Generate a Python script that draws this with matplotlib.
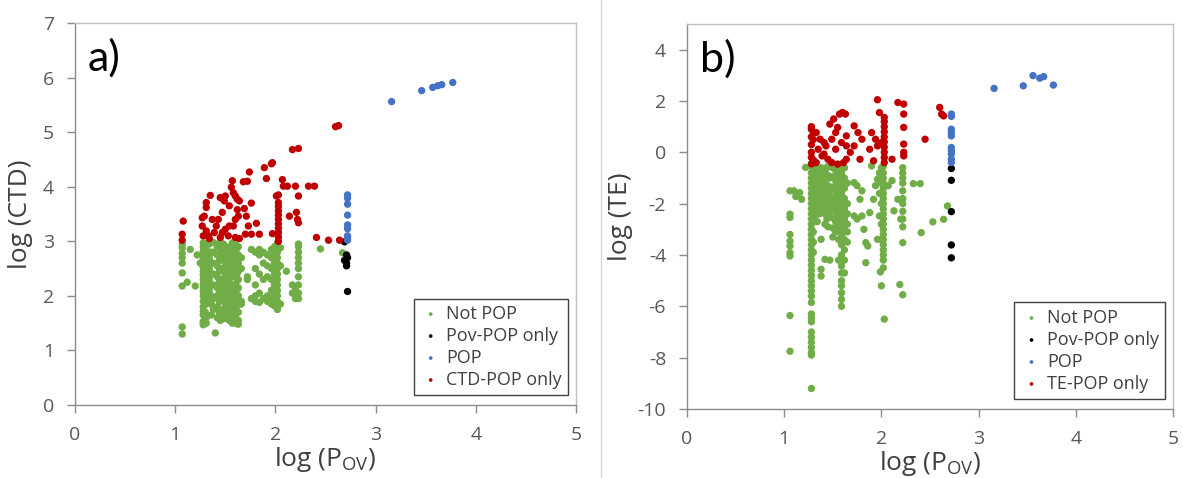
import matplotlib
matplotlib.use('Agg')
import matplotlib.pyplot as plt
from matplotlib.lines import Line2D

plt.rcParams['font.family'] = ['Open Sans', 'DejaVu Sans']
plt.rcParams['mathtext.fontset'] = 'custom'
plt.rcParams['mathtext.rm'] = 'Open Sans'
plt.rcParams['axes.unicode_minus'] = False

# colours of the four classes
GREEN = '#70ad47'
BLACK = '#000000'
BLUE = '#4472c4'
RED = '#c00000'

# ---------------- panel a) log(Pov) vs log(CTD) ----------------
# points are grouped in columns: one x value, several y values
a_green_x = [1.07, 1.12, 1.15, 1.2, 1.22, 1.25, 1.28, 1.3, 1.31, 1.34, 1.36, 1.38, 1.4,
             1.42, 1.44, 1.45, 1.48, 1.5, 1.51, 1.54, 1.56, 1.57, 1.6, 1.62, 1.63, 1.66,
             1.72, 1.76, 1.8, 1.84, 1.88, 1.92, 1.96, 1.99, 2.02, 2.05, 2.11, 2.17, 2.2,
             2.23, 2.45, 2.67]
a_green_y = [
    [1.30, 1.43, 2.18, 2.42, 2.6, 2.7, 2.78, 2.88, 2.95],
    [2.25], [2.85], [2.18], [2.75], [2.6],
    [1.47, 1.5, 1.53, 1.65, 1.72, 1.8, 1.9, 2.0, 2.08, 2.15, 2.22, 2.3, 2.38, 2.45, 2.52,
     2.6, 2.68, 2.75, 2.82, 2.9, 2.97],
    [1.55, 1.7, 1.95, 2.15, 2.35, 2.55, 2.75, 2.95],
    [1.5, 1.6, 1.85, 2.05, 2.25, 2.45, 2.65, 2.85],
    [1.9, 2.1, 2.3, 2.5, 2.7, 2.95],
    [1.65, 1.85, 2.0, 2.2, 2.4, 2.6, 2.8],
    [1.75, 1.95, 2.2, 2.4, 2.6, 2.8, 2.98],
    [1.32],
    [1.6, 1.8, 2.0, 2.15, 2.35, 2.55, 2.75, 2.9],
    [1.7, 1.9, 2.05, 2.25, 2.45, 2.65, 2.95],
    [1.55, 1.7, 1.9, 2.1, 2.3, 2.5, 2.7, 2.85, 3.0],
    [1.58, 1.75, 1.95, 2.2, 2.45, 2.65, 2.8, 2.95],
    [1.65, 1.8, 2.0, 2.15, 2.35, 2.55, 2.75],
    [1.6, 1.85, 2.05, 2.25, 2.4, 2.6, 2.9],
    [1.55, 1.7, 1.9, 2.1, 2.3, 2.5, 2.7, 2.85],
    [1.6, 1.75, 1.95, 2.15, 2.35, 2.55, 2.75, 2.9],
    [1.5, 1.65, 1.8, 2.0, 2.2, 2.4, 2.6, 2.8, 2.97],
    [1.5, 1.62, 1.75, 1.9, 2.05, 2.2, 2.35, 2.5, 2.65, 2.8, 2.95],
    [1.55, 1.7, 1.82, 1.98, 2.12, 2.28, 2.42, 2.58, 2.72, 2.88],
    [1.48, 1.55, 1.7, 1.85, 2.0, 2.15, 2.3, 2.45, 2.6, 2.75, 2.9],
    [1.85, 1.9, 2.5, 2.7],
    [2.3, 2.35], [2.85, 1.95],
    [1.9, 2.0, 2.2, 2.5, 2.8],
    [1.88, 2.05, 2.4, 2.75, 2.85],
    [1.95, 2.3, 2.6, 2.8],
    [1.9, 2.0, 2.35, 2.55, 2.75],
    [1.85, 1.95, 2.1, 2.3, 2.5, 2.7, 2.85],
    [1.82, 2.0, 2.2, 2.4, 2.6, 2.8, 2.9],
    [1.75, 1.8, 1.9, 2.0, 2.1, 2.2, 2.3, 2.4, 2.5, 2.6, 2.7, 2.8, 2.9, 2.97],
    [1.85, 2.55, 2.88],
    [2.45], [2.2, 2.05], [2.1, 2.0, 1.95],
    [1.95, 2.05, 2.2, 2.35, 2.5, 2.6, 2.7, 2.8, 2.9, 2.95],
    [2.86], [2.79],
]
a_black_x = [2.69, 2.71, 2.72]
a_black_y = [[2.99, 2.65], [2.75, 2.6, 2.55], [2.70, 2.08]]
a_blue_x = [2.72, 3.16, 3.46, 3.57, 3.62, 3.66, 3.77]
a_blue_y = [[3.02, 3.05, 3.10, 3.23, 3.30, 3.48, 3.68, 3.79, 3.85],
            [5.56], [5.76], [5.82], [5.85], [5.87], [5.91]]
a_red_x = [1.07, 1.08, 1.27, 1.28, 1.29, 1.31, 1.33, 1.34, 1.35, 1.37, 1.39, 1.41, 1.43,
           1.45, 1.47, 1.49, 1.50, 1.53, 1.54, 1.56, 1.57, 1.58, 1.60, 1.62, 1.63, 1.64,
           1.68, 1.69, 1.70, 1.71, 1.72, 1.73, 1.74, 1.76, 1.81, 1.84, 1.89, 1.91, 1.96,
           1.97, 2.01, 2.03, 2.07, 2.08, 2.12, 2.14, 2.17, 2.20, 2.21, 2.22, 2.23, 2.33,
           2.39, 2.41, 2.53, 2.60, 2.63, 2.64]
a_red_y = [
    [3.02, 3.13], [3.37], [3.28, 3.43], [3.10], [3.46], [3.19, 3.62, 3.71], [3.10],
    [3.05], [3.84], [3.40], [3.16], [3.28], [3.40], [3.07, 3.80], [3.16, 3.53], [3.74],
    [3.22, 3.83], [3.10], [3.28, 3.65], [3.99], [4.11], [3.28, 3.89], [3.07, 3.40, 3.83],
    [3.58, 3.77], [3.46], [3.05, 3.74], [4.09], [3.60], [3.13], [3.46], [4.10], [3.28],
    [4.27], [3.13, 3.70], [3.33], [3.13], [4.35], [4.15], [4.42], [3.14, 4.44], [3.83],
    [3.0, 3.08, 3.16, 3.24, 3.32, 3.4, 3.48, 3.56, 3.64, 3.71, 3.85],
    [4.13], [4.01], [4.01], [3.46], [4.68], [4.01], [3.53], [3.40], [3.34, 3.83, 4.70],
    [4.01], [4.01], [3.07], [3.02], [5.10], [5.12], [3.02],
]

# ---------------- panel b) log(Pov) vs log(TE) ----------------
b_green_x = [1.06, 1.1, 1.12, 1.16, 1.18, 1.22, 1.28, 1.3, 1.31, 1.34, 1.36, 1.38, 1.42,
             1.44, 1.45, 1.47, 1.5, 1.53, 1.55, 1.56, 1.59, 1.62, 1.65, 1.72, 1.75, 1.78,
             1.8, 1.82, 1.84, 1.86, 1.88, 1.9, 1.92, 1.94, 1.96, 1.98, 1.99, 2.0, 2.02,
             2.03, 2.07, 2.11, 2.13, 2.17, 2.19, 2.2, 2.22, 2.33, 2.4, 2.41, 2.53, 2.64,
             2.68]
b_green_y = [
    [-1.5, -2.41, -2.54, -3.2, -3.46, -3.65, -3.91, -4.04, -6.36, -7.75],
    [-1.5], [-1.72], [-1.57], [-1.83], [-0.59],
    [-0.55, -0.8, -1.0, -1.2, -1.4, -1.6, -1.8, -2.0, -2.2, -2.4, -2.6, -2.8, -3.0, -3.2,
     -3.4, -3.6, -3.8, -4.0, -4.2, -4.4, -4.6, -4.8, -5.0, -5.2, -5.4, -5.6, -5.85, -6.3,
     -6.45, -6.6, -7.0, -7.2, -7.4, -7.6, -7.8, -7.9, -9.2],
    [-0.7, -1.1, -1.5, -1.9, -2.3, -2.7, -3.1, -3.5, -3.9],
    [-0.6, -0.9, -1.3, -1.7, -2.1, -2.5],
    [-0.7, -1.1, -1.5, -1.9, -2.3, -2.7],
    [-0.8, -1.2, -1.6, -2.0, -2.4],
    [-0.6, -1.0, -1.4, -1.8, -2.2, -3.39, -4.56, -4.82],
    [-0.8, -1.2, -1.6, -2.0, -2.4, -2.8, -4.17],
    [-0.6, -1.0, -1.4, -1.8, -2.2, -2.6],
    [-0.55, -0.9, -1.3, -1.7, -2.1, -2.5, -2.9],
    [-1.0, -1.5, -2.0, -2.3, -4.2],
    [-0.6, -0.95, -1.35, -1.75, -2.15, -2.55, -2.95, -3.3],
    [-0.7, -1.1, -1.5, -1.9, -2.3, -2.7, -3.1],
    [-0.8, -1.2, -1.6, -2.0, -2.4, -2.8],
    [-0.6, -1.0, -1.4, -1.8, -2.2, -2.6, -3.0, -3.4, -4.2],
    [-0.5, -0.8, -1.2, -1.6, -2.0, -2.4, -2.8, -3.2, -3.6, -4.0, -4.43, -4.7, -5.0, -5.2,
     -5.47, -5.73, -6.0],
    [-0.6, -1.0, -1.4, -1.8, -2.2, -2.6, -3.0, -3.4, -3.8, -4.2, -4.7],
    [-1.2, -2.0, -2.8, -3.5, -3.1, -2.4],
    [-1.18, -2.48], [-1.3, -2.6], [-1.83], [-2.48, -1.5], [-3.0], [-3.52, -4.3], [-3.65],
    [-2.35], [-0.53], [-1.83], [-1.3], [-1.05, -3.39], [-2.48, -0.8, -1.6], [-4.66],
    [-5.2, -0.6, -1.2, -2.0, -2.8, -3.4],
    [-0.55, -0.8, -1.0, -1.2, -1.4, -1.6, -1.8, -2.0, -2.2, -2.4, -2.6, -2.8, -3.0, -3.2,
     -3.4, -3.6, -3.8, -4.0, -4.2, -4.5],
    [-6.5], [-1.3], [-1.1], [-2.28], [-1.83], [-5.15], [-2.6],
    [-0.6, -0.8, -1.0, -1.2, -1.5, -1.8, -2.0, -2.3, -2.6, -2.9, -3.52, -5.55],
    [-1.22], [-1.22], [-3.13], [-2.71], [-2.61], [-2.09],
]
b_black_x = [2.72]
b_black_y = [[-0.63, -1.09, -2.31, -3.61, -4.11]]
b_blue_x = [2.72, 3.16, 3.46, 3.56, 3.63, 3.67, 3.77]
b_blue_y = [[1.49, 1.40, 0.90, 0.77, 0.64, 0.19, 0.06, -0.07, -0.27, -0.40],
            [2.49], [2.59], [2.99], [2.89], [2.95], [2.62]]
b_red_x = [1.28, 1.30, 1.33, 1.35, 1.37, 1.39, 1.41, 1.43, 1.45, 1.47, 1.49, 1.51, 1.53,
           1.55, 1.57, 1.59, 1.60, 1.61, 1.63, 1.64, 1.68, 1.72, 1.76, 1.78, 1.80, 1.88,
           1.90, 1.92, 1.94, 1.96, 1.98, 2.00, 2.03, 2.11, 2.17, 2.23, 2.45, 2.60, 2.62,
           2.64]
b_red_y = [
    [-0.45, -0.2, 0.0, 0.3, 0.6, 0.9, 1.0], [-0.3, 0.5, 0.8], [-0.4, 0.77], [0.12],
    [0.51], [-0.14], [-0.07, 0.38], [0.25], [-0.27], [1.1], [-0.4, 0.51], [1.3],
    [0.12, 0.77], [-0.46, 0.97], [1.49], [0.38], [1.55], [-0.4], [1.49],
    [-0.27, 0.25, 0.64], [0.0], [0.25, 1.03], [0.77], [-0.27], [0.51], [0.12], [0.77],
    [-0.33], [0.51], [0.25, 2.05], [1.55], [0.38],
    [-0.4, -0.2, 0.0, 0.2, 0.4, 0.6, 0.8, 1.0, 1.2, 1.36],
    [-0.27], [1.94], [-0.14, 0.0, 0.32, 0.97, 1.49, 1.88], [0.51], [1.75], [1.49], [1.42],
]


def flatten(cols, ys):
    xs, vs = [], []
    for x, col in zip(cols, ys):
        for v in col:
            xs.append(x)
            vs.append(v)
    return xs, vs


def draw_panel(ax, groups, ylim, yticks, ylabel, tag, labels, ylabelpad):
    for (cols, ys), color, lab in zip(groups, [GREEN, BLACK, BLUE, RED], labels):
        xs, vs = flatten(cols, ys)
        ax.scatter(xs, vs, s=28, color=color, edgecolors='none', label=lab, zorder=3)

    ax.set_xlim(0, 5)
    ax.set_ylim(*ylim)
    ax.set_xticks(range(0, 6))
    ax.set_yticks(yticks)
    ax.tick_params(axis='both', direction='out', length=6, width=1.0, color='#8c8c8c',
                   labelsize=14, labelcolor='#595959', pad=9)
    for side in ['left', 'bottom']:
        ax.spines[side].set_color('#8c8c8c')
        ax.spines[side].set_linewidth(1.0)
    for side in ['top', 'right']:
        ax.spines[side].set_color('#bfbfbf')
        ax.spines[side].set_linewidth(1.0)

    ax.set_xlabel(r'log (P$_{\mathrm{OV}}$)', fontsize=19, color='#404040', labelpad=1)
    ax.set_ylabel(ylabel, fontsize=19, color='#404040', labelpad=ylabelpad)
    ax.text(0.026, 0.96, tag, transform=ax.transAxes, fontsize=31, color='black',
            family=['Lato', 'Open Sans', 'DejaVu Sans'], weight='normal',
            ha='left', va='top')

    leg = ax.legend(loc='lower right', bbox_to_anchor=(0.984, 0.026), borderaxespad=0,
                    fontsize=13, markerscale=0.5, handletextpad=0.25,
                    handlelength=1.2, labelspacing=0.22, borderpad=0.35,
                    fancybox=False, framealpha=1)
    leg.get_frame().set_edgecolor('#404040')
    leg.get_frame().set_linewidth(1.0)
    for t in leg.get_texts():
        t.set_color('#404040')


fig = plt.figure(figsize=(11.83, 4.78), dpi=100)
ax1 = fig.add_axes([0.0634, 0.1527, 0.4235, 0.7992])
ax2 = fig.add_axes([0.5807, 0.1444, 0.4108, 0.8054])

draw_panel(ax1,
           [(a_green_x, a_green_y), (a_black_x, a_black_y), (a_blue_x, a_blue_y),
            (a_red_x, a_red_y)],
           (0, 7), range(0, 8), 'log (CTD)', 'a)',
           ['Not POP', 'Pov-POP only', 'POP', 'CTD-POP only'], 7)
draw_panel(ax2,
           [(b_green_x, b_green_y), (b_black_x, b_black_y), (b_blue_x, b_blue_y),
            (b_red_x, b_red_y)],
           (-10, 5), range(-10, 5, 2), 'log (TE)', 'b)',
           ['Not POP', 'Pov-POP only', 'POP', 'TE-POP only'], 3)

# faint border of the second chart area
fig.add_artist(Line2D([601 / 1183, 601 / 1183], [0, 1], color='#d9d9d9', linewidth=1.0))

fig.savefig('out.png', dpi=100)
